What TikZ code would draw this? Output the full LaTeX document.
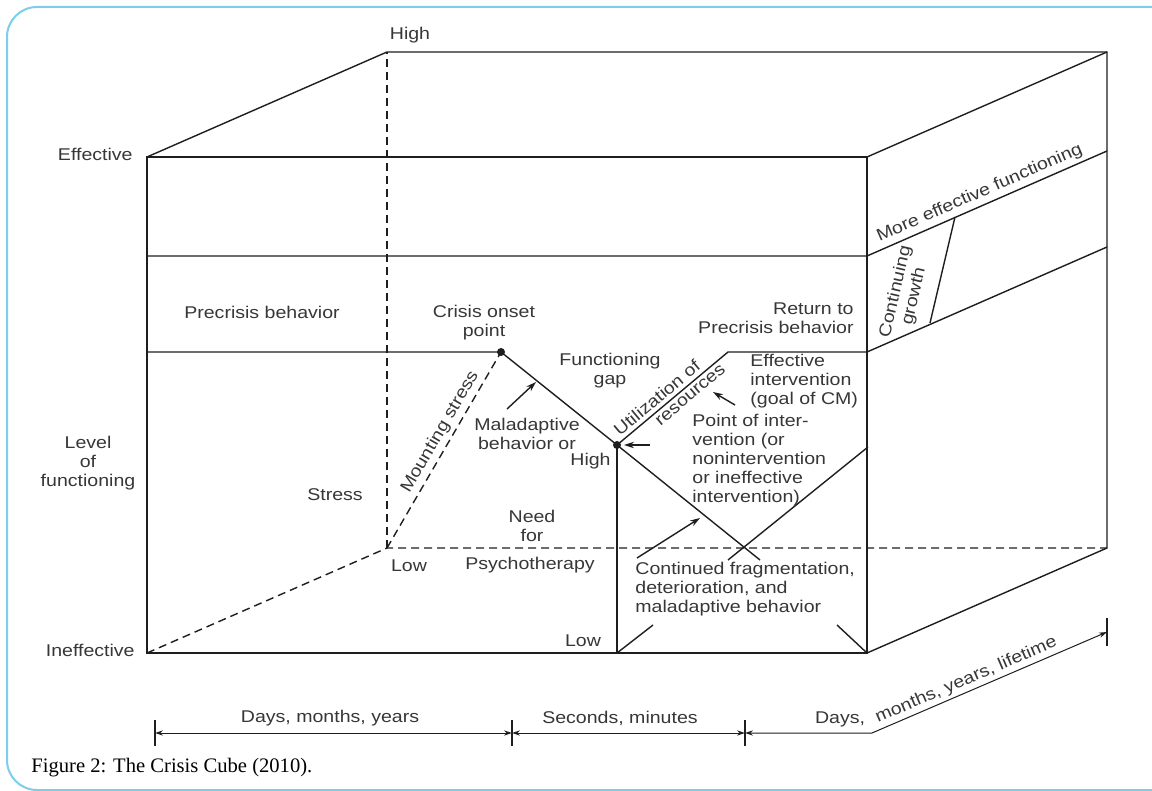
\documentclass[tikz,border=0pt]{standalone}
\usepackage{fontspec}
\setmainfont[FakeStretch=1.15]{Liberation Sans}
\newfontfamily\capfont{Liberation Serif}
\usetikzlibrary{arrows.meta, positioning, calc}
\definecolor{frameblue}{RGB}{125,205,235}
\definecolor{inkgray}{RGB}{30,30,30}
\definecolor{txtgray}{RGB}{55,55,55}
\tikzset{
  lbl/.style={font=\fontsize{8.5}{9.5}\selectfont, text=txtgray, inner sep=0pt, align=center},
  edge/.style={draw=inkgray, line width=0.7pt},
  hidden/.style={edge, dash pattern=on 4pt off 2.5pt},
  dot/.style={circle, fill=inkgray, inner sep=0pt, minimum size=4pt},
  pointer/.style={edge, -{Stealth[length=5pt,width=3.2pt]}},
  span/.style={edge, line width=0.5pt, {Stealth[length=4pt,width=2.6pt]}-{Stealth[length=4pt,width=2.6pt]}},
}

\begin{document}
\begin{tikzpicture}[x=0.5pt, y=-0.5pt]
\useasboundingbox[fill=white] (0,0) rectangle (1152,791);
\draw[frameblue, line width=1pt, rounded corners=15pt] (7,7) rectangle (1200,790);

\pgfmathsetmacro{\cubex}{720}
\pgfmathsetmacro{\cubey}{496}
\pgfmathsetmacro{\depx}{240}
\pgfmathsetmacro{\depy}{-105}
% front face and the two visible faces
\coordinate (ftl) at (147,157);
\coordinate (ftr) at (147+\cubex,157);
\coordinate (fbr) at (147+\cubex,157+\cubey);
\coordinate (fbl) at (147,157+\cubey);
\coordinate (btl) at ($(ftl)+(\depx,\depy)$);
\coordinate (btr) at ($(ftr)+(\depx,\depy)$);
\coordinate (bbr) at ($(fbr)+(\depx,\depy)$);
\coordinate (bbl) at ($(fbl)+(\depx,\depy)$);
\draw[edge] (ftl) -- (ftr) -- (fbr) -- (fbl) -- cycle;
\draw[edge] (ftl) -- (btl) -- (btr) -- (bbr) -- (fbr);
\draw[edge] (ftr) -- (btr);
\draw[hidden] (fbl) -- (bbl) -- (bbr);
\draw[hidden] (bbl) -- (btl);

% levels of functioning
\draw[edge] (147,256) -- (867,256) -- ++(\depx,\depy);
\node[dot] (onset) at (501,352) {};
\node[dot] (peak) at (617,445) {};
\coordinate (back) at (728,352);
\draw[edge] (147,352) -- (onset.center) -- (peak.center) -- (back) -- (867,352) -- ++(\depx,\depy);
\draw[edge] (peak.center) -- (760,560);
\draw[edge] (728,560) -- (868,447);
\draw[edge] (peak.center) -- (617,653);
\draw[hidden] (bbl) -- (onset.center);
\draw[edge] (930,323) -- (955,217);
\draw[edge] (617,653) -- (653,625);
\draw[edge] (fbr) -- (837,625);

% small pointers
\draw[pointer] (507,409) -- (536,382);
\draw[pointer] (650,445) -- (624,445);
\draw[pointer] (735,405) -- (713,392);
\draw[pointer] (637,558) -- (700,518);

% labels
\node[lbl] (hightop) at (410,35) {High};
\node[lbl, anchor=east] (effective) at (133,154) {Effective};
\node[lbl] (precrisis) at (262,312) {Precrisis behavior};
\node[lbl] (level) at (88,463) {Level\\of\\functioning};
\node[lbl] (stress) at (335,495) {Stress};
\node[lbl, anchor=east] (ineffective) at (135,650) {Ineffective};
\node[lbl] (lowback) at (409,566) {Low};
\node[lbl] (onsetlbl) at (484,323) {Crisis onset\\point};
\node[lbl] (gap) at (610,371) {Functioning\\gap};
\node[lbl] (maladapt) at (527,434) {Maladaptive\\behavior or};
\node[lbl, anchor=east] (highneed) at (611,461) {High};
\node[lbl] (need) at (532,526) {Need\\for};
\node[lbl] (psycho) at (530,565) {Psychotherapy};
\node[lbl] (lowneed) at (583,641) {Low};
\node[lbl, align=right, anchor=east] (return) at (854,318) {Return to\\Precrisis behavior};
\node[lbl, align=left, anchor=west] (effint) at (750,381) {Effective\\intervention\\(goal of CM)};
\node[lbl, align=left, anchor=west] (pointint) at (692,460) {Point of inter-\\vention (or\\nonintervention\\or ineffective\\intervention)};
\node[lbl, align=left, anchor=west] (fragment) at (635,589) {Continued fragmentation,\\deterioration, and\\maladaptive behavior};
\path (bbl) -- (onset.center) node[lbl, pos=0.56, sloped, above=2pt] (mounting) {Mounting stress};
\path (peak.center) -- (back) node[lbl, pos=0.42, sloped, above=2pt] (util) {Utilization of}
  node[lbl, pos=0.61, sloped, below=2pt] (resources) {resources};
\path (867,256) -- ++(\depx,\depy) node[lbl, pos=0.49, sloped, above=2pt] (moreeff) {More effective functioning};
\node[lbl, rotate=77] (growth) at (905,294) {Continuing\\growth};

% time scale
\coordinate (t1) at (155,733);
\coordinate (t2) at (512,733);
\coordinate (t3) at (745,733);
\coordinate (tb) at (872,733);
\coordinate (t4) at (1107,632);
\foreach \t in {t1,t2,t3} {
  \draw[edge] ($(\t)+(0,-13)$) -- ($(\t)+(0,13)$);
}
\draw[edge] ($(t4)+(0,-14)$) -- ($(t4)+(0,14)$);
\draw[span] (t1) -- (t2);
\draw[span] (t2) -- (t3);
\draw[span] (t3) -- (tb) -- (t4);
\node[lbl] (days1) at (330,718) {Days, months, years};
\node[lbl] (secs) at (620,718) {Seconds, minutes};
\node[lbl] (days2) at (840,719) {Days,};
\path (tb) -- (t4) node[lbl, pos=0.42, sloped, above=1.5pt] (lifetime) {months, years, lifetime};

\node[font=\capfont\fontsize{10.3}{12}\selectfont, anchor=west, inner sep=0pt] (caption) at (31,768) {Figure 2: The Crisis Cube (2010).};
\end{tikzpicture}
\end{document}
